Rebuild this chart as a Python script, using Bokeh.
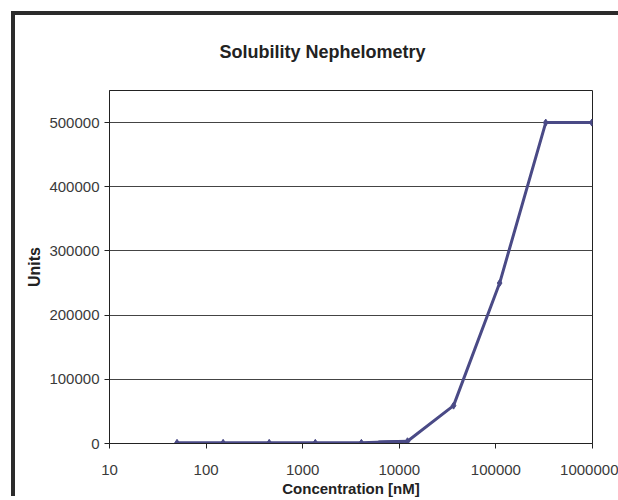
from bokeh.plotting import figure
from bokeh.models import Range1d, FixedTicker, Title
from bokeh.embed import file_html
from bokeh.resources import INLINE

# ---- data ----
conc = [50, 150, 450, 1350, 4050, 12150, 36450, 109350, 328050, 984150]
units = [1000, 1000, 1000, 1000, 1000, 3500, 59000, 250000, 500000, 500000]
rep_conc = [6075, 12150]
rep_units = [2500, 3500]

x_ticks = [10, 100, 1000, 10000, 100000, 1000000]
x_tick_labels = ["10", "100", "1000", "10000", "100000", "1000000"]
y_ticks = [0, 100000, 200000, 300000, 400000, 500000]
y_tick_labels = ["0", "100000", "200000", "300000", "400000", "500000"]

title_text = "Solubility Nephelometry"
x_title = "Concentration [nM]"
y_title = "Units"

LINE = "#4a4a86"
FONT = "Liberation Sans"
DARK = "#222222"

p = figure(width=603, height=485, x_axis_type="log",
           x_range=Range1d(10, 1000000), y_range=Range1d(0, 550000),
           output_backend="svg", toolbar_location=None,
           min_border_left=94, min_border_right=26,
           min_border_top=75, min_border_bottom=57,
           margin=(15, 0, 0, 15),
           styles={"box-shadow": "-4px -4px 0px 0px #2b2b2b, 0px -4px 0px 0px #2b2b2b"})

p.background_fill_color = "white"
p.border_fill_color = "white"
p.outline_line_color = DARK
p.outline_line_width = 1

# title (a trailing blank line keeps the text higher above the frame)
p.title.text = title_text + "\n "
p.title.align = "left"
p.title.offset = 110
p.title.standoff = 17
p.title.text_font = FONT
p.title.text_font_size = "18px"
p.title.text_font_style = "bold"
p.title.text_color = DARK

# axes
p.xaxis.ticker = FixedTicker(ticks=x_ticks)
p.xaxis.major_label_overrides = {t: s for t, s in zip(x_ticks, x_tick_labels)}
p.yaxis.ticker = FixedTicker(ticks=y_ticks)
p.yaxis.major_label_overrides = {t: s for t, s in zip(y_ticks, y_tick_labels)}
for ax in (p.xaxis, p.yaxis):
    ax.axis_line_color = DARK
    ax.major_tick_line_color = DARK
    ax.major_tick_out = 5
    ax.major_tick_in = 0
    ax.minor_tick_line_color = None
    ax.major_label_text_font = FONT
    ax.major_label_text_font_size = "15px"
    ax.major_label_text_color = "#3a3a3a"
p.yaxis.major_label_standoff = 5
p.xaxis.major_label_standoff = 16

p.xgrid.visible = False
p.ygrid.ticker = FixedTicker(ticks=y_ticks[1:])
p.ygrid.grid_line_color = "#444444"
p.ygrid.grid_line_width = 1

# axis titles as side-panel titles
p.add_layout(Title(text=y_title, align="center", standoff=8, text_font=FONT,
                   text_font_size="16px", text_font_style="bold", text_color=DARK), "left")
p.add_layout(Title(text=x_title, align="center", standoff=0, text_font=FONT,
                   text_font_size="15px", text_font_style="bold", text_color=DARK), "below")

# series
p.line(rep_conc, rep_units, line_color=LINE, line_width=3)
p.line(conc, units, line_color=LINE, line_width=3)
p.scatter(conc, units, marker="diamond", size=7, fill_color=LINE, line_color=LINE)

open("out.html", "w").write(file_html(p, INLINE))
